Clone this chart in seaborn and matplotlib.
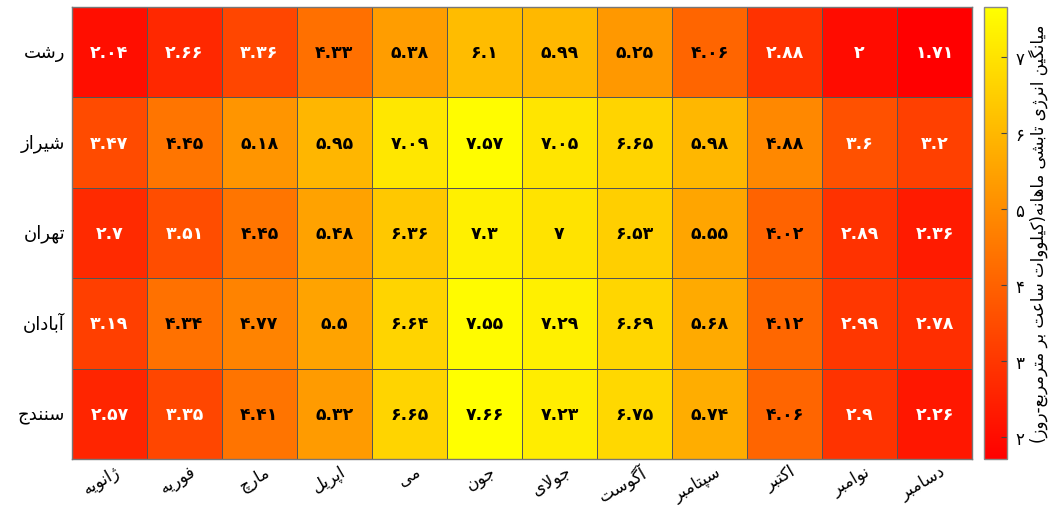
import numpy as np
import pandas as pd
import matplotlib
matplotlib.use("Agg")
import matplotlib.pyplot as plt
import matplotlib.transforms as mtransforms
import seaborn as sns

# ==============================
# 1. DATA
# ==============================
cities = ["رشت", "شیراز", "تهران", "آبادان", "سنندج"]
months = ["ژانویه", "فوریه", "مارچ", "اپریل", "می", "جون",
          "جولای", "آگوست", "سپتامبر", "اکتبر", "نوامبر", "دسامبر"]

rasht   = [2.04, 2.66, 3.36, 4.33, 5.38, 6.1, 5.99, 5.25, 4.06, 2.88, 2, 1.71]
shiraz  = [3.47, 4.45, 5.18, 5.95, 7.09, 7.57, 7.05, 6.65, 5.98, 4.88, 3.6, 3.2]
tehran  = [2.7, 3.51, 4.45, 5.48, 6.36, 7.3, 7, 6.53, 5.55, 4.02, 2.89, 2.36]
abadan  = [3.19, 4.34, 4.77, 5.5, 6.64, 7.55, 7.29, 6.69, 5.68, 4.12, 2.99, 2.78]
sanandaj = [2.57, 3.35, 4.41, 5.32, 6.65, 7.66, 7.23, 6.75, 5.74, 4.06, 2.9, 2.26]

cbar_ticks = [2, 3, 4, 5, 6, 7]
cbar_title = "میانگین انرژی تابشی ماهانه(کیلووات ساعت بر مترمربع-روز)"

# ==============================
# 2. PERSIAN TEXT SHAPING (matplotlib has no RTL / joining)
# ==============================
# isolated, final, initial, medial
FORMS = {
    "ا": ("\uFE8D", "\uFE8E", None, None),
    "آ": ("\uFE81", "\uFE82", None, None),
    "ب": ("\uFE8F", "\uFE90", "\uFE91", "\uFE92"),
    "پ": ("\uFB56", "\uFB57", "\uFB58", "\uFB59"),
    "ت": ("\uFE95", "\uFE96", "\uFE97", "\uFE98"),
    "ج": ("\uFE9D", "\uFE9E", "\uFE9F", "\uFEA0"),
    "چ": ("\uFB7A", "\uFB7B", "\uFB7C", "\uFB7D"),
    "د": ("\uFEA9", "\uFEAA", None, None),
    "ر": ("\uFEAD", "\uFEAE", None, None),
    "ز": ("\uFEAF", "\uFEB0", None, None),
    "ژ": ("\uFB8A", "\uFB8B", None, None),
    "س": ("\uFEB1", "\uFEB2", "\uFEB3", "\uFEB4"),
    "ش": ("\uFEB5", "\uFEB6", "\uFEB7", "\uFEB8"),
    "ع": ("\uFEC9", "\uFECA", "\uFECB", "\uFECC"),
    "ف": ("\uFED1", "\uFED2", "\uFED3", "\uFED4"),
    "ک": ("\uFB8E", "\uFB8F", "\uFB90", "\uFB91"),
    "گ": ("\uFB92", "\uFB93", "\uFB94", "\uFB95"),
    "ل": ("\uFEDD", "\uFEDE", "\uFEDF", "\uFEE0"),
    "م": ("\uFEE1", "\uFEE2", "\uFEE3", "\uFEE4"),
    "ن": ("\uFEE5", "\uFEE6", "\uFEE7", "\uFEE8"),
    "ه": ("\uFEE9", "\uFEEA", "\uFEEB", "\uFEEC"),
    "و": ("\uFEED", "\uFEEE", None, None),
    "ی": ("\uFBFC", "\uFBFD", "\uFBFE", "\uFBFF"),
}


def joins_next(t):
    if t in ("LA", "LAA"):
        return False
    return t in FORMS and FORMS[t][2] is not None


def joins_prev(t):
    return t in ("LA", "LAA") or t in FORMS


def fa(text):
    tokens = []
    i = 0
    while i < len(text):
        if text[i] == "ل" and i + 1 < len(text) and text[i + 1] in "اآ":
            tokens.append("LA" if text[i + 1] == "ا" else "LAA")
            i += 2
        else:
            tokens.append(text[i])
            i += 1
    res = []
    for k, t in enumerate(tokens):
        prev = tokens[k - 1] if k > 0 else None
        nxt = tokens[k + 1] if k + 1 < len(tokens) else None
        cp = prev is not None and joins_next(prev) and joins_prev(t)
        cn = nxt is not None and joins_next(t) and joins_prev(nxt)
        if t == "LA":
            res.append("\uFEFC" if cp else "\uFEFB")
        elif t == "LAA":
            res.append("\uFEF6" if cp else "\uFEF5")
        elif t in FORMS:
            iso, fin, ini, med = FORMS[t]
            if cp and cn:
                res.append(med)
            elif cp:
                res.append(fin)
            elif cn:
                res.append(ini)
            else:
                res.append(iso)
        else:
            res.append(t)
    mirror = {"(": ")", ")": "("}
    return "".join(mirror.get(c, c) for c in reversed("".join(res)))


FA_DIGITS = str.maketrans("0123456789", "۰۱۲۳۴۵۶۷۸۹")


def fa_num(v):
    return f"{v:g}".translate(FA_DIGITS)


# ==============================
# 3. TABLE
# ==============================
df = pd.DataFrame([rasht, shiraz, tehran, abadan, sanandaj],
                  index=[fa(c) for c in cities],
                  columns=[fa(m) for m in months])
labels = np.vectorize(fa_num)(df.values)

# ==============================
# 4. PLOT
# ==============================
plt.rcParams["font.family"] = ["DejaVu Sans"]

fig = plt.figure(figsize=(10.52, 5.06), dpi=100)
ax = fig.add_axes([0.0684, 0.0909, 0.8556, 0.8933])
cax = fig.add_axes([0.9354, 0.0909, 0.0219, 0.8933])

sns.heatmap(df, ax=ax, cbar_ax=cax, cmap="autumn",
            annot=labels, fmt="",
            annot_kws={"fontsize": 12.5, "fontweight": "bold"},
            linewidths=0.7, linecolor="#555555")

# white text on the red cells, black on the rest
for txt, v in zip(ax.texts, df.values.flatten()):
    txt.set_color("white" if v < 4 else "black")

ax.tick_params(axis="both", length=0)
ax.tick_params(axis="y", pad=5)
ax.tick_params(axis="x", pad=2)
ax.set_yticklabels(ax.get_yticklabels(), rotation=0, fontsize=13)
ax.set_xticklabels(ax.get_xticklabels(), rotation=30, ha="right",
                   rotation_mode="anchor", fontsize=12)
shift = mtransforms.ScaledTranslation(5 / 100, 0, fig.dpi_scale_trans)
for lab in ax.get_xticklabels():
    lab.set_transform(lab.get_transform() + shift)
ax.set_xlabel("")
ax.set_ylabel("")
for s in ax.spines.values():
    s.set_visible(True)
    s.set_color("#777777")
    s.set_linewidth(1)

cbar = ax.collections[0].colorbar
cbar.set_ticks(cbar_ticks)
cbar.set_ticklabels([fa_num(t) for t in cbar_ticks])
cax.tick_params(direction="in", length=4, width=0.8, color="#444444",
                labelsize=12, pad=6)
cbar.outline.set_edgecolor("#888888")
cbar.outline.set_linewidth(1)
cbar.set_label(fa(cbar_title), fontsize=12, labelpad=3)

plt.savefig("out.png", dpi=100)
